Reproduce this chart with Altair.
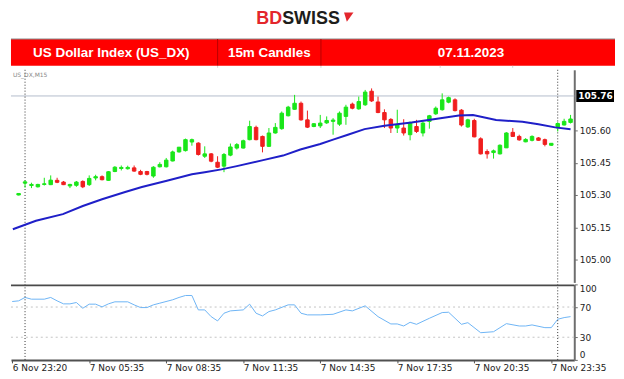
import altair as alt
import pandas as pd

# ---------------- data ----------------
opens = [105.300, 105.355, 105.344, 105.338, 105.349, 105.348, 105.368, 105.360, 105.342, 105.345,
         105.363, 105.348, 105.379, 105.385, 105.368, 105.409, 105.423, 105.422, 105.426, 105.409,
         105.409, 105.388, 105.431, 105.431, 105.458, 105.500, 105.506, 105.546, 105.541, 105.480,
         105.491, 105.452, 105.434, 105.485, 105.518, 105.518, 105.557, 105.614, 105.572, 105.526,
         105.588, 105.608, 105.668, 105.698, 105.726, 105.649, 105.618, 105.621, 105.635, 105.642,
         105.629, 105.665, 105.722, 105.700, 105.719, 105.782, 105.732, 105.683, 105.651, 105.611,
         105.611, 105.580, 105.618, 105.588, 105.642, 105.677, 105.696, 105.731, 105.742, 105.694,
         105.616, 105.646, 105.561, 105.502, 105.497, 105.491, 105.519, 105.591, 105.572, 105.547,
         105.554, 105.565, 105.557, 105.531, 105.612, 105.625, 105.637]
closes = [105.307, 105.361, 105.349, 105.349, 105.352, 105.369, 105.359, 105.348, 105.349, 105.360,
          105.338, 105.377, 105.385, 105.371, 105.408, 105.429, 105.428, 105.428, 105.411, 105.396,
          105.396, 105.429, 105.442, 105.462, 105.500, 105.522, 105.557, 105.557, 105.488, 105.491,
          105.457, 105.429, 105.488, 105.523, 105.534, 105.552, 105.618, 105.557, 105.526, 105.588,
          105.614, 105.680, 105.708, 105.726, 105.649, 105.615, 105.631, 105.634, 105.646, 105.648,
          105.680, 105.708, 105.703, 105.734, 105.778, 105.737, 105.683, 105.649, 105.611, 105.626,
          105.588, 105.634, 105.595, 105.634, 105.668, 105.703, 105.742, 105.752, 105.692, 105.625,
          105.649, 105.570, 105.491, 105.491, 105.505, 105.531, 105.588, 105.572, 105.556, 105.558,
          105.572, 105.554, 105.535, 105.540, 105.632, 105.642, 105.653]
highs = [105.309, 105.368, 105.357, 105.352, 105.380, 105.391, 105.380, 105.365, 105.352, 105.365,
         105.368, 105.391, 105.394, 105.391, 105.411, 105.434, 105.437, 105.436, 105.437, 105.417,
         105.412, 105.434, 105.452, 105.472, 105.506, 105.523, 105.562, 105.562, 105.545, 105.526,
         105.495, 105.480, 105.495, 105.539, 105.541, 105.557, 105.645, 105.622, 105.576, 105.611,
         105.634, 105.688, 105.714, 105.765, 105.734, 105.692, 105.634, 105.672, 105.665, 105.657,
         105.688, 105.719, 105.729, 105.757, 105.788, 105.795, 105.757, 105.698, 105.657, 105.696,
         105.652, 105.642, 105.649, 105.642, 105.672, 105.711, 105.772, 105.757, 105.749, 105.699,
         105.654, 105.654, 105.568, 105.512, 105.511, 105.535, 105.592, 105.611, 105.580, 105.564,
         105.577, 105.569, 105.562, 105.541, 105.638, 105.654, 105.672]
lows = [105.298, 105.334, 105.332, 105.335, 105.344, 105.346, 105.355, 105.346, 105.332, 105.338,
        105.332, 105.342, 105.368, 105.368, 105.366, 105.406, 105.414, 105.418, 105.408, 105.392,
        105.391, 105.380, 105.428, 105.428, 105.456, 105.497, 105.502, 105.529, 105.483, 105.472,
        105.452, 105.425, 105.406, 105.480, 105.511, 105.516, 105.554, 105.554, 105.498, 105.523,
        105.585, 105.603, 105.665, 105.696, 105.645, 105.611, 105.615, 105.611, 105.630, 105.580,
        105.621, 105.626, 105.698, 105.696, 105.714, 105.732, 105.680, 105.611, 105.588, 105.588,
        105.576, 105.554, 105.588, 105.572, 105.608, 105.672, 105.692, 105.726, 105.688, 105.618,
        105.612, 105.568, 105.488, 105.469, 105.469, 105.488, 105.518, 105.570, 105.552, 105.545,
        105.549, 105.552, 105.526, 105.528, 105.595, 105.623, 105.632]

ma_idx = [-0.9, 2.7, 6.9, 10.0, 13.0, 16.6, 19.2, 23.1, 27.0, 29.0, 31.6, 34.0, 38.1, 41.2, 43.9,
          47.0, 49.0, 51.3, 53.9, 57.0, 61.2, 65.2, 68.6, 70.8, 74.4, 78.5, 81.0, 83.6, 86.0]
ma_val = [105.141, 105.180, 105.211, 105.249, 105.280, 105.314, 105.337, 105.366, 105.396, 105.406,
          105.419, 105.434, 105.462, 105.483, 105.511, 105.537, 105.557, 105.580, 105.606, 105.622,
          105.637, 105.654, 105.669, 105.671, 105.648, 105.640, 105.629, 105.614, 105.605]

rsi_idx = [-1, 0, 1, 2, 4, 5, 6, 7, 8, 9, 10, 11, 12, 13, 14, 15, 17, 18, 19, 20, 21, 22, 24, 25, 26,
           27, 28, 29, 30, 31, 32, 33, 35, 36, 37, 38, 39, 40, 42, 43, 44, 45, 47, 49, 51, 52, 54, 56,
           58, 59, 60, 61, 62, 64, 66, 67, 69, 70, 72, 74, 76, 78, 79, 80, 82, 83, 84, 85, 86]
rsi_val = [77.3, 78.2, 82.7, 80.4, 80.4, 82.7, 78.2, 74.2, 74.2, 76.0, 68.4, 73.8, 73.8, 70.2, 74.2,
           76.9, 76.9, 72.9, 69.3, 69.3, 72.9, 75.1, 79.6, 82.7, 85.3, 85.3, 66.2, 66.2, 57.3, 51.6,
           61.8, 64.9, 66.2, 73.8, 61.8, 58.2, 64.0, 66.2, 72.9, 72.9, 61.8, 59.6, 59.6, 60.4, 66.2,
           64.9, 71.6, 57.3, 47.6, 47.6, 44.9, 49.8, 47.1, 55.1, 62.7, 63.1, 47.1, 49.3, 36.0, 37.3,
           48.0, 44.9, 44.9, 46.3, 42.7, 42.7, 53.8, 56.0, 57.3]
rsi_levels = [30, 70]
rsi_ticks = [0, 30, 70, 100]

sep_idx = [1, 84]
x_tick_idx = [-1, 11, 23, 35, 47, 59, 71, 83]
x_tick_labels = ["6 Nov 23:20", "7 Nov 05:35", "7 Nov 08:35", "7 Nov 11:35",
                 "7 Nov 14:35", "7 Nov 17:35", "7 Nov 20:35", "7 Nov 23:35"]
price_ticks = [105.00, 105.15, 105.30, 105.45, 105.60]
level_price = [105.76]
title_cells = ["US Dollar Index (US_DX)", "15m Candles", "07.11.2023"]
symbol_text = "US_DX,M15"

# ---------------- styling ----------------
GREEN = "#19e619"
RED = "#f01e1e"
MA_COL = "#1f1fc8"
RSI_COL = "#6eb4f5"
AXC = "#6e6e6e"
FONT = "DejaVu Sans"

W = 567
H_HEAD = 60
H_MAIN = 214
H_RSI = 76
FULL_W = 608

candles = pd.DataFrame({"i": list(range(len(opens))), "o": opens, "h": highs, "l": lows, "c": closes})
candles["dir"] = ["up" if c >= o else "down" for o, c in zip(opens, closes)]

xs = alt.Scale(domain=[-1.19, 86.58], nice=False, zero=False, padding=0)
ys = alt.Scale(domain=[104.894, 105.8815], nice=False, zero=False, padding=0)

yax = alt.Axis(orient="right", values=price_ticks, format=".2f", title=None, grid=False,
               domainColor=AXC, domainWidth=2, tickColor=AXC, tickSize=3,
               labelFont=FONT, labelFontSize=9, labelColor="#222", labelPadding=2, labelFlush=False)

dir_scale = alt.Scale(domain=["up", "down"], range=[GREEN, RED])
col = alt.Color("dir:N", scale=dir_scale, legend=None)
strk = alt.Stroke("dir:N", scale=dir_scale, legend=None)
xq = alt.X("i:Q", scale=xs, axis=None)

level_df = pd.DataFrame({"p": level_price})
level_line = alt.Chart(level_df).mark_rule(color="#b4bccc", strokeWidth=1).encode(
    y=alt.Y("p:Q", scale=ys, axis=yax))

sep_df = pd.DataFrame({"i": sep_idx})
sep_main = alt.Chart(sep_df).mark_rule(color="#333333", strokeWidth=1, strokeDash=[1, 2]).encode(x=xq)

wick = alt.Chart(candles).mark_rule(strokeWidth=1).encode(
    x=xq, y=alt.Y("l:Q", scale=ys, axis=yax), y2="h:Q", color=col)
body = alt.Chart(candles).mark_bar(size=3.5, strokeWidth=1).encode(
    x=xq, y=alt.Y("o:Q", scale=ys, axis=yax), y2="c:Q", color=col, stroke=strk)

ma_df = pd.DataFrame({"i": ma_idx, "v": ma_val})
ma_line = alt.Chart(ma_df).mark_line(color=MA_COL, strokeWidth=2).encode(
    x=xq, y=alt.Y("v:Q", scale=ys, axis=yax))

box = alt.Chart(level_df).mark_tick(color="black", thickness=12, size=38, orient="horizontal", opacity=1).encode(
    x=alt.value(W + 21), y=alt.Y("p:Q", scale=ys, axis=yax))
box_text = alt.Chart(level_df).mark_text(align="left", baseline="middle", color="white", font=FONT,
                                          fontSize=9, fontWeight="bold").encode(
    x=alt.value(W + 4), y=alt.Y("p:Q", scale=ys, axis=yax), text=alt.Text("p:Q", format=".2f"))

sym = alt.Chart(pd.DataFrame({"t": [symbol_text]})).mark_text(
    align="left", baseline="top", fontSize=6, color="#888888", font=FONT).encode(
    x=alt.value(2), y=alt.value(2), text="t:N")

main = alt.layer(level_line, sep_main, wick, body, ma_line, box, box_text, sym).properties(
    width=W, height=H_MAIN)

# ---------------- RSI panel ----------------
label_expr = "''"
for v, lab in reversed(list(zip(x_tick_idx, x_tick_labels))):
    label_expr = f"datum.value == {v} ? '{lab}' : ({label_expr})"

rys = alt.Scale(domain=[0, 100], nice=False, zero=True, padding=0)
ryax = alt.Axis(orient="right", values=rsi_ticks, title=None, grid=False,
                domainColor=AXC, domainWidth=2, tickColor=AXC, tickSize=3,
                labelFont=FONT, labelFontSize=9, labelColor="#222", labelPadding=2, labelFlush=True)
rxax = alt.Axis(orient="bottom", values=x_tick_idx, labelExpr=label_expr, title=None, grid=False,
                domainColor="#505050", domainWidth=2, tickColor="#505050", tickSize=3,
                labelAlign="left", labelFlush=False, labelOverlap=False, labelBound=False,
                labelFont=FONT, labelFontSize=9, labelColor="#222", labelPadding=1)
rx = alt.X("i:Q", scale=xs, axis=rxax)

rsi_df = pd.DataFrame({"i": rsi_idx, "v": rsi_val})
lvl = alt.Chart(pd.DataFrame({"v": rsi_levels})).mark_rule(
    color="#c4c4c4", strokeWidth=1, strokeDash=[2, 3]).encode(y=alt.Y("v:Q", scale=rys, axis=ryax))
rsi_line = alt.Chart(rsi_df).mark_line(color=RSI_COL, strokeWidth=1).encode(
    x=rx, y=alt.Y("v:Q", scale=rys, axis=ryax))
sep_rsi = alt.Chart(sep_df).mark_rule(color="#333333", strokeWidth=1, strokeDash=[1, 2]).encode(x=rx)
top_border = alt.Chart(pd.DataFrame({"v": [100]})).mark_rule(color="#4a4a4a", strokeWidth=2).encode(
    y=alt.Y("v:Q", scale=rys, axis=ryax), yOffset=alt.value(1))

rsi = alt.layer(lvl, rsi_line, sep_rsi, top_border).properties(width=W, height=H_RSI)

# ---------------- header ----------------
hd = pd.DataFrame({"a": [0]})
banner = alt.Chart(hd).mark_rect(color="#ff0000").encode(
    x=alt.value(0), x2=alt.value(FULL_W), y=alt.value(30), y2=alt.value(57))
banner_top = alt.Chart(hd).mark_rule(color="#8a8a8a", strokeWidth=1).encode(
    x=alt.value(0), x2=alt.value(FULL_W), y=alt.value(30))
dividers = [alt.Chart(hd).mark_rule(color="#b80000", strokeWidth=1).encode(
    x=alt.value(xv), y=alt.value(30), y2=alt.value(57)) for xv in (208, 312)]
cell_lines = [alt.Chart(hd).mark_rule(color="#d4d4d4", strokeWidth=1).encode(
    x=alt.value(xv), y=alt.value(57), y2=alt.value(59)) for xv in (208, 312, 432, 505)]
title_texts = [alt.Chart(hd).mark_text(text=t, font="Liberation Sans", fontWeight="bold", fontSize=13.5,
                                       color="white", align="center", baseline="middle").encode(
    x=alt.value(cx), y=alt.value(44)) for t, cx in zip(title_cells, (101, 260, 463))]
logo_bd = alt.Chart(hd).mark_text(text="BD", font="Liberation Sans", fontWeight="bold", fontSize=18,
                                  color="#e3262c", align="right", baseline="middle").encode(
    x=alt.value(273), y=alt.value(10))
logo_sw = alt.Chart(hd).mark_text(text="SWISS", font="Liberation Sans", fontWeight="bold", fontSize=18,
                                  color="#1d1d1b", align="left", baseline="middle").encode(
    x=alt.value(273), y=alt.value(10))
logo_flag = alt.Chart(hd).mark_point(shape="M -1 -1 L 1 -1 L -0.4 1 Z", filled=True, size=90,
                                     color="#e3262c", opacity=1).encode(x=alt.value(340), y=alt.value(8))

header = alt.layer(banner, banner_top, *dividers, *cell_lines, *title_texts, logo_bd, logo_sw,
                   logo_flag).properties(width=FULL_W, height=H_HEAD)

chart = alt.vconcat(header, main, rsi, spacing=0).properties(
    padding={"left": 0, "right": 0, "top": 0, "bottom": 0}, background="white"
).configure_view(stroke=None)

chart.save("out.html", embed_options={"renderer": "svg", "actions": False})
